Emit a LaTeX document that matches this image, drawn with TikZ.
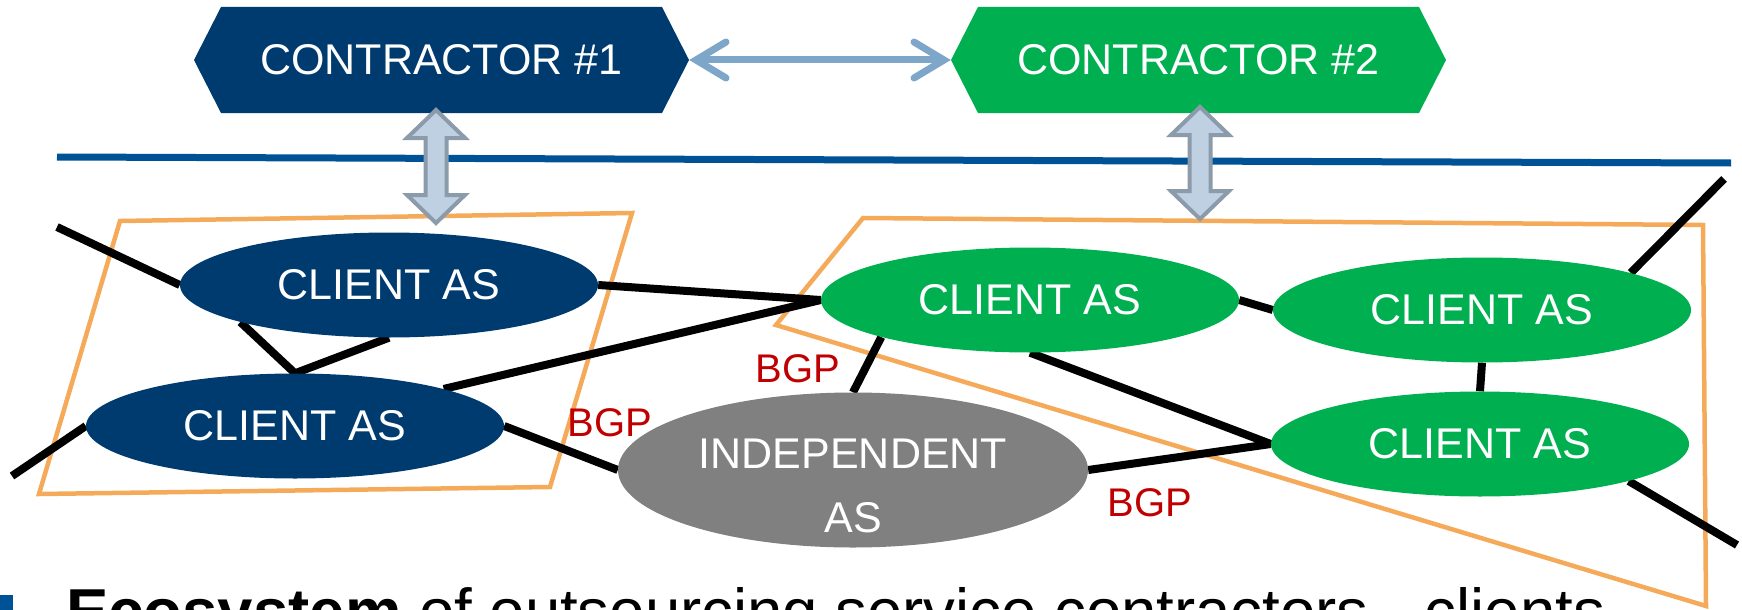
\documentclass[tikz,border=0pt]{standalone}
\usepackage{fontspec}
\setmainfont{Liberation Sans}
\usetikzlibrary{shapes.geometric,shapes.symbols,arrows.meta,backgrounds}
\definecolor{darkblue}{RGB}{0,59,111}
\definecolor{asgreen}{RGB}{0,176,80}
\definecolor{asgray}{RGB}{128,128,128}
\definecolor{orangeln}{RGB}{245,170,90}
\definecolor{topblue}{RGB}{0,82,150}
\definecolor{harrowblue}{RGB}{126,166,201}
\definecolor{arrowfill}{RGB}{190,208,225}
\definecolor{arrowborder}{RGB}{140,155,170}
\definecolor{bgpred}{RGB}{192,0,0}
\tikzset{
  contractor/.style={shape=signal, signal to=east and west, signal pointer angle=126,
    minimum width=495, minimum height=106, inner sep=0, text=white,
    font=\fontsize{43}{50}\selectfont},
  asnode/.style={ellipse, minimum width=418, minimum height=105, inner sep=0,
    text=white, font=\fontsize{43}{50}\selectfont},
  conn/.style={line width=8, black},
  orangebox/.style={line width=4.5, orangeln, line join=miter},
  bgp/.style={text=bgpred, inner sep=0, font=\fontsize{40}{44}\selectfont},
  harrow/.style={line width=7, harrowblue, line cap=round,
    arrows={Straight Barb[length=30pt,width=36pt,line cap=round]-Straight Barb[length=30pt,width=36pt,line cap=round]}},
  blockarrow/.style={fill=arrowfill, draw=arrowborder, line width=4, line join=miter},
  pics/dblarrow/.style={code={
    \draw[blockarrow] (0,0) -- (29,28) -- (10.5,28) -- (10.5,#1-28) -- (29,#1-28) -- (0,#1)
      -- (-29,#1-28) -- (-10.5,#1-28) -- (-10.5,28) -- (-29,28) -- cycle;
  }}
}
\begin{document}
\begin{tikzpicture}[x=1pt,y=-1pt]
\useasboundingbox (0,0) rectangle (1742,610);
\clip (0,0) rectangle (1742,610);

% contractors
\node[contractor, fill=darkblue] (c1) at (441.5,60) {CONTRACTOR \#1};
\node[contractor, fill=asgreen] (c2) at (1198.5,60) {CONTRACTOR \#2};

% AS nodes
\node[asnode, fill=darkblue] (b1) at (389,285) {CLIENT AS};
\node[asnode, fill=darkblue] (b2) at (295,426) {CLIENT AS};
\node[asnode, fill=asgreen] (g1) at (1030,300) {CLIENT AS};
\node[asnode, fill=asgreen] (g2) at (1482,310) {CLIENT AS};
\node[asnode, fill=asgreen] (g3) at (1480,444) {CLIENT AS};
\node[ellipse, fill=asgray, minimum width=470, minimum height=155, inner sep=0] (ind) at (853,470) {};
\node[text=white, align=center, inner sep=0, font=\fontsize{43}{64}\selectfont] (indtext) at (853,486) {INDEPENDENT\\AS};

% BGP labels
\node[bgp] (bgp1) at (610,423) {BGP};
\node[bgp] (bgp2) at (798,369) {BGP};
\node[bgp] (bgp3) at (1150,503) {BGP};

% free ends
\coordinate (e1) at (57,227);
\coordinate (e2) at (12,476);
\coordinate (e3) at (1724,179);
\coordinate (e4) at (1737,545);

\begin{scope}[on background layer]
  \draw[line width=7, topblue] (57,157) -- (1731,163);
  \draw[orangebox] (120,221) -- (632,213) -- (550,487) -- (39,494) -- cycle;
  \draw[orangebox] (863,218) -- (1703,225) -- (1706,606) -- (776,325) -- cycle;
  \draw[conn] (e1) -- (b1.west);
  \draw[conn] (b1.194) -- (b2.north) -- (b1.south);
  \draw[conn] (b2.west) -- (e2);
  \draw[conn] (b2.east) -- (ind.west);
  \draw[conn] (b2.14) -- (g1.west);
  \draw[conn] (b1.east) -- (g1.west);
  \draw[conn] (g1.194) -- (ind.north);
  \draw[conn] (g1.south) -- (g3.west);
  \draw[conn] (ind.east) -- (g3.west);
  \draw[conn] (g1.east) -- (g2.west);
  \draw[conn] (g2.south) -- (g3.north);
  \draw[conn] (g2.14) -- (e3);
  \draw[conn] (g3.-14) -- (e4);
\end{scope}

% arrows between contractors and to clients
\draw[harrow] (c1.east) -- (c2.west);
\pic at (436,110) {dblarrow=113};
\pic at (1200,107) {dblarrow=112};

% bottom caption (cut off)
\fill[topblue] (0,595) rectangle (13,615);
\node[anchor=base west, inner sep=0, font=\fontsize{63.5}{70}\selectfont] (caption) at (66,633)
  {\textbf{Ecosystem} of outsourcing service contractors - clients};
\end{tikzpicture}
\end{document}
